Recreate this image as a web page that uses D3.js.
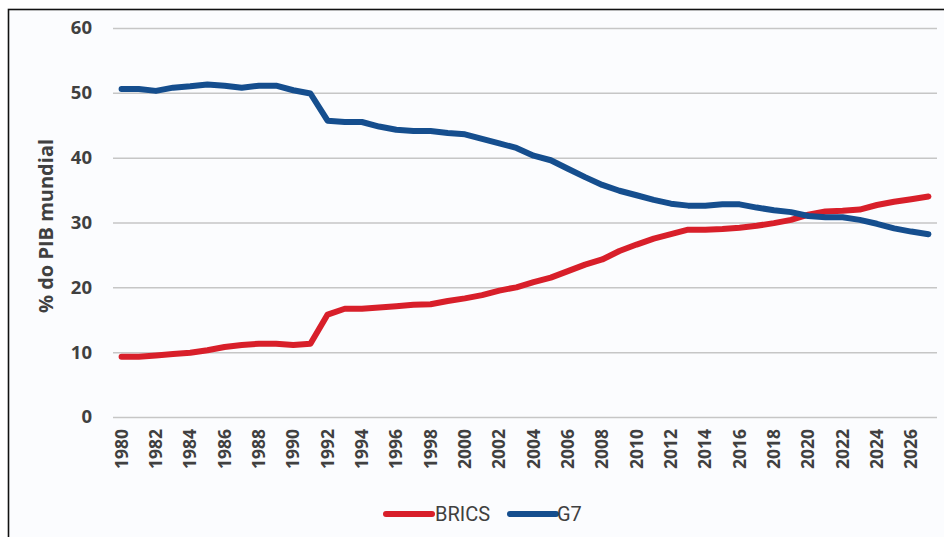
<!DOCTYPE html>
<html><head><meta charset="utf-8">
<script src="https://cdn.jsdelivr.net/npm/d3@7"></script>
<style>
html,body{margin:0;padding:0;background:#fff;}
svg{display:block;}
</style></head>
<body>
<svg id="chart" width="944" height="537"></svg>
<script>
const years = d3.range(1980, 2028);
const tickYears = d3.range(1980, 2027, 2);
const yTicks = [0, 10, 20, 30, 40, 50, 60];
const seriesNames = ["BRICS", "G7"];
const seriesColors = ["#d81f2a", "#154e8e"];
const brics = [9.3,9.3,9.5,9.7,9.9,10.3,10.8,11.1,11.3,11.3,11.1,11.3,15.8,16.7,16.7,16.9,17.1,17.3,17.4,17.9,18.3,18.8,19.5,20.0,20.8,21.5,22.5,23.5,24.3,25.6,26.6,27.5,28.2,28.9,28.9,29.0,29.2,29.5,29.9,30.4,31.2,31.7,31.8,32.0,32.7,33.2,33.6,34.0];
const g7 = [50.6,50.6,50.3,50.8,51.0,51.3,51.1,50.8,51.1,51.1,50.4,49.9,45.7,45.5,45.5,44.8,44.3,44.1,44.1,43.8,43.6,42.9,42.2,41.5,40.3,39.6,38.3,37.0,35.8,34.9,34.2,33.5,32.9,32.6,32.6,32.8,32.8,32.3,31.9,31.6,31.0,30.8,30.8,30.4,29.8,29.1,28.6,28.2];
const yTitle = "% do PIB mundial";

const svg = d3.select("#chart");
const font = "'Open Sans', 'DejaVu Sans', sans-serif";

// frame
svg.append("rect").attr("x", 8.5).attr("y", 9.5).attr("width", 944).attr("height", 540)
  .attr("fill", "#fbfcfe").attr("stroke", "#111").attr("stroke-width", 1.6);

const pLeft = 113, pRight = 937, pTop = 28, pBottom = 417;
const x = d3.scaleBand().domain(years).range([pLeft, pRight]);
const xc = d => x(d) + x.bandwidth() / 2;
const y = d3.scaleLinear().domain([0, 60]).range([pBottom, pTop]);

// grid + y axis
const yAxis = d3.axisLeft(y).tickValues(yTicks).tickSize(-(pRight - pLeft)).tickPadding(21);
const gy = svg.append("g").attr("transform", `translate(${pLeft},0)`).call(yAxis);
gy.select(".domain").remove();
gy.selectAll(".tick line").attr("stroke", "#c6c6c6").attr("stroke-width", 1.5);
gy.selectAll(".tick text").attr("fill", "#404040").style("font-family", font)
  .style("font-size", "18.5px").style("font-weight", "700");

// x axis
const xAxis = d3.axisBottom(x).tickValues(tickYears).tickSize(0).tickPadding(0);
const gx = svg.append("g").attr("transform", `translate(0,${pBottom})`).call(xAxis);
gx.select(".domain").remove();
gx.selectAll(".tick text")
  .attr("transform", "rotate(-90)")
  .attr("x", -12).attr("y", 0).attr("dy", "0.35em")
  .style("text-anchor", "end")
  .attr("fill", "#404040").style("font-family", font)
  .style("font-size", "17.5px").style("font-weight", "700");

// y title
svg.append("text").attr("transform", "translate(53,226) rotate(-90)")
  .attr("text-anchor", "middle").attr("fill", "#404040")
  .style("font-family", font).style("font-size", "20px").style("font-weight", "700")
  .text(yTitle);

// lines
const line = d3.line().x((d, i) => xc(years[i])).y(d => y(d)).curve(d3.curveLinear);
[brics, g7].forEach((s, i) => {
  svg.append("path").datum(s).attr("d", line).attr("fill", "none")
    .attr("stroke", seriesColors[i]).attr("stroke-width", 6)
    .attr("stroke-linejoin", "round").attr("stroke-linecap", "round");
});

// legend
const legendItems = [{x: 386, w: 46, tx: 435}, {x: 510, w: 46, tx: 557}];
seriesNames.forEach((n, i) => {
  const it = legendItems[i];
  svg.append("line").attr("x1", it.x).attr("x2", it.x + it.w).attr("y1", 514).attr("y2", 514)
    .attr("stroke", seriesColors[i]).attr("stroke-width", 6).attr("stroke-linecap", "round");
  svg.append("text").attr("x", it.tx).attr("y", 514).attr("dy", "0.35em")
    .attr("fill", "#404040").style("font-family", "'Liberation Sans Narrow', 'Roboto', sans-serif")
    .style("font-size", "20px").style("font-weight", "400")
    .text(n);
});
</script>
</body></html>
